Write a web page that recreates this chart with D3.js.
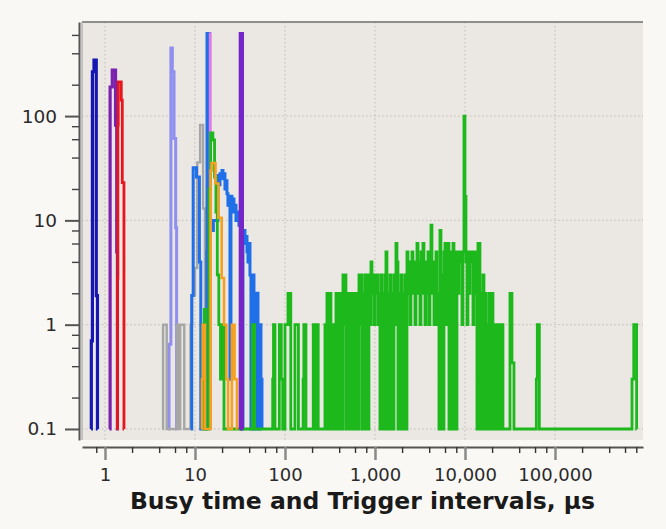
<!DOCTYPE html>
<html>
<head>
<meta charset="utf-8">
<script src="https://cdn.jsdelivr.net/npm/d3@7"></script>
<style>
  html, body { margin: 0; padding: 0; background: #faf8f5; }
  svg { display: block; }
  text { font-family: "DejaVu Sans", sans-serif; }
</style>
</head>
<body>
<svg id="chart" width="666" height="529"></svg>
<script>
// Step histograms: [bin start (µs), count]. Empty bins rest on the 0.1 floor.
const navyBins = [[0.70,0],[0.705,0.7],[0.725,266],[0.755,344],[0.80,1.9],[0.825,0],[0.83,0]];
const purpleBins = [[1.12,0],[1.14,190],[1.205,276],[1.31,82],[1.35,5],[1.375,0],[1.38,0]];
const redBins = [[1.36,0],[1.375,2.8],[1.39,82],[1.405,213],[1.517,142],[1.557,23],[1.625,0],[1.63,0]];
const lavenderBins = [[5.05,0],[5.15,0.65],[5.4,450],[5.6,266],[5.85,61],[6.1,8.5],[6.25,0],[6.3,0]];
const grayBins = [[4.35,0],[4.42,1],[4.85,0],[6.3,1],[6.6,0],[6.85,1],[7.6,0],[8.9,1],[9.3,1.9],
  [10.0,3.5],[10.6,36],[11.4,82],[12.3,13],[12.9,0],[13.0,0]];
const pinkBins = [[14.55,0],[14.6,620],[14.95,0],[15.0,0]];
const violetBins = [[31.4,0],[31.7,620],[33.8,0],[34.0,0]];
const orangeBins = [[11.8,0],[11.95,0.3],[12.2,1],[12.9,0],[14.9,30],[15.3,35.5],[16.9,22.6],[18.2,10.6],
  [19.8,2.8],[21.0,1],[22.3,0.3],[23.3,0],[25.7,1],[27.5,0.3],[29.3,0],[29.5,0]];

// Fine-binned stretches: consecutive counts on log bins, 90 per decade
const fineBinsPerDecade = 90;

const blueCoarseBins = [[9.0,0],[9.2,1.9],[9.55,32],[10.4,26],[11.2,4],[11.6,0],[13.5,5],[13.6,620],
  [14.5,8],[16.0,10]];
const blueFineStart = 18;
const blueFineCounts = [
  27,22,28,25,30,26,28,20,24,18,
  14,16,0.3,17,15,16,12,14,10,12,
  11,9,12,8,0,7,8,6,7,5,
  4,6,3,0,2,3,1,0,2,2,
  1,0,1,0.3,0];

const greenLowBins = [[12.0,0],
  [12.2,1],[12.7,1.4],[13.2,0],
  [14.3,20],[14.9,69],[15.8,59],[16.5,26],[17.1,12],[17.7,3],[18.4,1],[19.2,0.3],[19.8,1],[21.0,0],
  [43.5,1],[46.0,0],
  [73.0,0.3],[74.5,1],[77.4,0],
  [86.5,1],[91.0,0.3],[94.3,0],
  [100,1],[108,2],[116,0],
  [129,1],[141,0],
  [159,0.3],[162,1],[171,0],
  [206,1],[212,0],[222,1],[234,0]];
const greenFineStart = 278;
const greenFineCounts = [
  1,0,2,0,1,2,0,1,0,1,
  0,2,0,2,1,0,2,0,3,1,
  3,0,2,0,1,2,0,2,0,1,
  2,0,2,0,3,1,3,0,2,0,
  3,0,3,0,3,1,4,2,3,1,
  3,2,3,1,2,0,3,0,2,0,
  3,5,0,2,0,3,0,2,0,3,
  1,6,4,0,2,0,3,0,2,0,
  3,0,5,2,4,1,3,5,2,4,
  1,3,6,2,4,1,5,2,6,3,
  1,4,2,5,1,3,9,2,4,1,
  3,5,1,2,0,8,0,3,0,5,
  6,1,5,6,0,5,0,5,6,0,
  5,0,5,2,5,4,5,1,5,100,
  17,4,1,5,2,5,4,5,1,4,
  5,2,0,6,6,0,2,0,3,0,
  2,0,1,0,2,1,0,2,0,1,
  0,1,0,1,0,1,0,1,0,0,
  0,0,0,0,0,2,2,0.43,0.43,0];
const greenHighBins = [[36000,0],[62000,0.3],[63600,1],[67000,0],
  [717000,0.3],[750000,1],[807000,0],[810000,0]];

const xMajorTicks = [1, 10, 100, 1000, 10000, 100000];
const xMinorTicks = [0.8, 2, 4, 6, 8, 20, 40, 60, 80, 200, 400, 600, 800, 2000, 4000, 6000, 8000,
  20000, 40000, 60000, 80000, 200000, 400000, 600000, 800000];
const yMajorTicks = [0.1, 1, 10, 100];
const yMinorTicks = [0.2, 0.4, 0.6, 0.8, 2, 4, 6, 8, 20, 40, 60, 80, 200, 400, 600];
const xTitle = "Busy time and Trigger intervals, µs";

// turn a run of fine-bin counts into [bin start, count] pairs
function fineBins(start, counts) {
  return counts.map((c, i) => [start * Math.pow(10, i / fineBinsPerDecade), c]);
}

const blueBins = blueCoarseBins.concat(fineBins(blueFineStart, blueFineCounts));
const greenBins = greenLowBins.concat(fineBins(greenFineStart, greenFineCounts), greenHighBins);

// drawing order: later series sit on top
const series = [
  { bins: navyBins,     color: "#1616b2", width: 3.2 },
  { bins: purpleBins,   color: "#7a22ae", width: 3.2 },
  { bins: redBins,      color: "#e8161c", width: 2.8 },
  { bins: lavenderBins, color: "#8f8ff0", width: 3 },
  { bins: grayBins,     color: "#a6a6a6", width: 2.4 },
  { bins: blueBins,     color: "#1f6fe8", width: 3 },
  { bins: pinkBins,     color: "#e07ae6", width: 2 },
  { bins: greenBins,    color: "#1cb81c", width: 2.8 },
  { bins: orangeBins,   color: "#f5a020", width: 2.6 },
  { bins: violetBins,   color: "#7426c8", width: 2.8 }
];

const FLOOR = 0.1;
const plot = { left: 82, right: 643, top: 22, bottom: 440 };

const x = d3.scaleLog().domain([0.5555, 950000]).range([plot.left, plot.right]);
const y = d3.scaleLog().domain([0.0784, 798]).range([plot.bottom, plot.top]);

const svg = d3.select("#chart");

// plot background
svg.append("rect")
  .attr("x", plot.left).attr("y", plot.top)
  .attr("width", plot.right - plot.left).attr("height", plot.bottom - plot.top)
  .attr("fill", "#ebe8e4");

// dotted grid at the decades
const grid = svg.append("g").attr("stroke", "#bdb9b4").attr("stroke-width", 1)
  .attr("stroke-dasharray", "1.5,2.5");
grid.selectAll("line.gx").data(xMajorTicks).join("line")
  .attr("x1", d => x(d)).attr("x2", d => x(d))
  .attr("y1", plot.top).attr("y2", plot.bottom);
grid.selectAll("line.gy").data(yMajorTicks).join("line")
  .attr("y1", d => y(d)).attr("y2", d => y(d))
  .attr("x1", plot.left).attr("x2", plot.right);

// frame edges
svg.append("line").attr("x1", plot.left).attr("x2", plot.right)
  .attr("y1", plot.top).attr("y2", plot.top)
  .attr("stroke", "#8e8e8e").attr("stroke-width", 2);
svg.append("line").attr("x1", plot.left).attr("x2", plot.left)
  .attr("y1", plot.top).attr("y2", plot.bottom)
  .attr("stroke", "#b4b4b4").attr("stroke-width", 1.5);

// histogram lines
svg.append("clipPath").attr("id", "plotClip").append("rect")
  .attr("x", plot.left).attr("y", plot.top)
  .attr("width", plot.right - plot.left).attr("height", plot.bottom - plot.top);

const line = d3.line()
  .x(d => x(d[0]))
  .y(d => y(Math.max(d[1], FLOOR)))
  .curve(d3.curveStepAfter);

const lines = svg.append("g").attr("clip-path", "url(#plotClip)");
series.forEach(s => {
  lines.append("path")
    .attr("d", line(s.bins))
    .attr("fill", "none")
    .attr("stroke", s.color)
    .attr("stroke-width", s.width)
    .attr("stroke-linejoin", "miter");
});

// x axis
const xAxisY = 447;
const xMajor = svg.append("g").attr("transform", `translate(0,${xAxisY})`)
  .call(d3.axisBottom(x).tickValues(xMajorTicks).tickSize(13).tickSizeOuter(0)
    .tickPadding(8).tickFormat(d3.format(",")));
xMajor.select(".domain").attr("stroke", "#555").attr("stroke-width", 2);
xMajor.selectAll(".tick line").attr("stroke", "#8a8a8a").attr("stroke-width", 2.5);
xMajor.selectAll(".tick text").attr("font-size", 18).attr("fill", "#2a2a2a")
  .attr("font-family", "DejaVu Sans");
const xMinor = svg.append("g").attr("transform", `translate(0,${xAxisY})`)
  .call(d3.axisBottom(x).tickValues(xMinorTicks).tickSize(6).tickFormat(""));
xMinor.select(".domain").remove();
xMinor.selectAll(".tick line").attr("stroke", "#333").attr("stroke-width", 1.4);

// y axis
const yAxisX = 79;
const yMajor = svg.append("g").attr("transform", `translate(${yAxisX},0)`)
  .call(d3.axisLeft(y).tickValues(yMajorTicks).tickSize(14).tickSizeOuter(0)
    .tickPadding(8).tickFormat(d => d3.format(",")(d)));
yMajor.select(".domain").attr("stroke", "#555").attr("stroke-width", 2);
yMajor.selectAll(".tick line").attr("stroke", "#555").attr("stroke-width", 2);
yMajor.selectAll(".tick text").attr("font-size", 18.5).attr("fill", "#2a2a2a")
  .attr("font-family", "DejaVu Sans");
const yMinor = svg.append("g").attr("transform", `translate(${yAxisX},0)`)
  .call(d3.axisLeft(y).tickValues(yMinorTicks).tickSize(7).tickFormat(""));
yMinor.select(".domain").remove();
yMinor.selectAll(".tick line").attr("stroke", "#444").attr("stroke-width", 1.4);

// axis title
svg.append("text")
  .attr("x", (plot.left + plot.right) / 2).attr("y", 508.5)
  .attr("text-anchor", "middle")
  .attr("font-size", 23.5).attr("font-weight", "bold").attr("fill", "#1a1a1a")
  .text(xTitle);
</script>
</body>
</html>
